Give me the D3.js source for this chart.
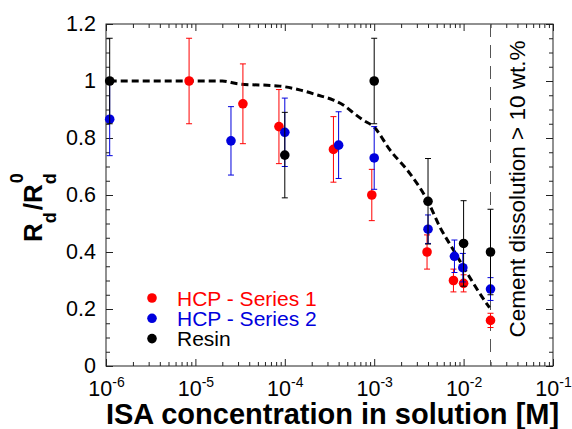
<!DOCTYPE html>
<html>
<head>
<meta charset="utf-8">
<script src="https://cdn.jsdelivr.net/npm/d3@7/dist/d3.min.js"></script>
<style>
  html, body { margin: 0; padding: 0; background: #fff; }
  svg { display: block; font-family: Arial, "Liberation Sans", sans-serif; }
</style>
</head>
<body>
<svg id="chart" width="572" height="429"></svg>
<script>
// ISA concentration [M] and normalised distribution ratio Rd/Rd0
const hcp1X = [8.5e-6, 3.4e-5, 8.6e-5, 3.5e-4, 9.4e-4, 3.9e-3, 7.7e-3, 1.0e-2, 2.0e-2];
const hcp1Y = [1.0, 0.92, 0.84, 0.76, 0.60, 0.40, 0.30, 0.29, 0.16];
const hcp1Err = [0.15, 0.14, 0.13, 0.115, 0.09, 0.06, 0.04, 0.03, 0.025];

const hcp2X = [1.1e-6, 2.5e-5, 1.0e-4, 4.0e-4, 1.0e-3, 4.0e-3, 7.9e-3, 9.8e-3, 2.0e-2];
const hcp2Y = [0.866, 0.79, 0.82, 0.775, 0.73, 0.48, 0.385, 0.345, 0.27];
const hcp2Err = [0.128, 0.12, 0.12, 0.117, 0.11, 0.05, 0.057, 0.05, 0.04];

const resinX = [1.1e-6, 1.0e-4, 1.0e-3, 4.0e-3, 1.0e-2, 2.0e-2];
const resinY = [1.0, 0.74, 1.0, 0.578, 0.43, 0.40];
const resinErr = [0.15, 0.15, 0.15, 0.15, 0.15, 0.15];

// model curve
const modelX = [1.1e-6, 1e-5, 2e-5, 3e-5, 8.8e-5, 1.5e-4, 2.3e-4, 3.5e-4, 4.5e-4, 5.8e-4, 7.5e-4, 1e-3,
                1.5e-3, 2.5e-3, 4e-3, 5.4e-3, 7.7e-3, 1.1e-2, 1.8e-2, 1.95e-2];
const modelY = [1.0, 1.0, 1.0, 0.99, 0.982, 0.968, 0.951, 0.933, 0.916, 0.889, 0.863, 0.838,
                0.758, 0.676, 0.577, 0.489, 0.407, 0.325, 0.22, 0.205];

// cement dissolution limit
const dissolutionLimit = 2e-2;

const seriesNames = ["HCP - Series 1", "HCP - Series 2", "Resin"];
const seriesColors = ["#ff0000", "#0000dd", "#000000"];

const xMajor = [1e-6, 1e-5, 1e-4, 1e-3, 1e-2, 1e-1];
const xExponents = ["-6", "-5", "-4", "-3", "-2", "-1"];
const yMajor = [0, 0.2, 0.4, 0.6, 0.8, 1.0, 1.2];
const yLabels = ["0", "0.2", "0.4", "0.6", "0.8", "1", "1.2"];

const series = [
  { x: hcp1X, y: hcp1Y, e: hcp1Err },
  { x: hcp2X, y: hcp2Y, e: hcp2Err },
  { x: resinX, y: resinY, e: resinErr }
].map((s, i) => ({
  name: seriesNames[i],
  color: seriesColors[i],
  points: s.x.map((xv, j) => ({ x: xv, y: s.y[j], e: s.e[j] }))
}));

const svg = d3.select("#chart");
const L = 106, R = 553, T = 24, B = 366;

const x = d3.scaleLog().domain([1e-6, 1e-1]).range([L, R]);
const y = d3.scaleLinear().domain([0, 1.2]).range([B, T]);

// minor ticks
const xMinor = [];
for (let k = -6; k <= -2; k++) for (let m = 2; m <= 9; m++) xMinor.push(m * Math.pow(10, k));
const yMinor = d3.range(0, 25).map(i => i * 0.05).filter(v => Math.abs(v / 0.2 - Math.round(v / 0.2)) > 1e-6);

const axisColor = "#222";
function styleAxis(g) {
  g.select(".domain").remove();
  g.selectAll(".tick line").attr("stroke", axisColor).attr("stroke-width", 1);
}

// bottom
svg.append("g").attr("transform", `translate(0,${B})`)
  .call(d3.axisBottom(x).tickValues(xMinor).tickSize(-4).tickFormat(""))
  .call(styleAxis);
const xb = svg.append("g").attr("transform", `translate(0,${B})`)
  .call(d3.axisBottom(x).tickValues(xMajor).tickSize(-7).tickPadding(0).tickFormat(""))
  .call(styleAxis);
xb.selectAll(".tick").each(function (d, i) {
  const t = d3.select(this).append("text")
    .attr("fill", "#000").attr("font-size", 21.5).attr("text-anchor", "middle")
    .attr("y", 30);
  t.append("tspan").text("10");
  t.append("tspan").attr("font-size", 14).attr("dy", -9).text(xExponents[i]);
});
// top
svg.append("g").attr("transform", `translate(0,${T})`)
  .call(d3.axisTop(x).tickValues(xMinor).tickSize(-4).tickFormat(""))
  .call(styleAxis);
svg.append("g").attr("transform", `translate(0,${T})`)
  .call(d3.axisTop(x).tickValues(xMajor).tickSize(-7).tickFormat(""))
  .call(styleAxis);
// left
svg.append("g").attr("transform", `translate(${L},0)`)
  .call(d3.axisLeft(y).tickValues(yMinor).tickSize(-4).tickFormat(""))
  .call(styleAxis);
const yl = svg.append("g").attr("transform", `translate(${L},0)`)
  .call(d3.axisLeft(y).tickValues(yMajor).tickSize(-7).tickFormat((d, i) => yLabels[i]))
  .call(styleAxis);
yl.selectAll(".tick text").attr("x", -10).attr("font-size", 21.5).attr("fill", "#000")
  .attr("font-family", "Arial, 'Liberation Sans', sans-serif");
// right
svg.append("g").attr("transform", `translate(${R},0)`)
  .call(d3.axisRight(y).tickValues(yMinor).tickSize(-4).tickFormat(""))
  .call(styleAxis);
svg.append("g").attr("transform", `translate(${R},0)`)
  .call(d3.axisRight(y).tickValues(yMajor).tickSize(-7).tickFormat(""))
  .call(styleAxis);

// frame
svg.append("rect").attr("x", L).attr("y", T).attr("width", R - L).attr("height", B - T)
  .attr("fill", "none").attr("stroke", axisColor).attr("stroke-width", 1);

// dissolution limit
svg.append("line")
  .attr("x1", x(dissolutionLimit)).attr("x2", x(dissolutionLimit))
  .attr("y1", T).attr("y2", B)
  .attr("stroke", "#555").attr("stroke-width", 1).attr("stroke-dasharray", "13,8");
svg.append("text")
  .attr("transform", `translate(525,${(T + B) / 2 - 6}) rotate(-90)`)
  .attr("text-anchor", "middle").attr("font-size", 22.5).attr("fill", "#000")
  .text("Cement dissolution > 10 wt.%");

// model curve
const model = modelX.map((v, i) => [v, modelY[i]]);
svg.append("path")
  .datum(model)
  .attr("fill", "none").attr("stroke", "#000").attr("stroke-width", 3)
  .attr("stroke-dasharray", "7,4")
  .attr("d", d3.line().x(d => x(d[0])).y(d => y(d[1])).curve(d3.curveMonotoneX));

// error bars and points
const cap = 3;
series.forEach(s => {
  const g = svg.append("g");
  const eb = g.selectAll("g.err").data(s.points).join("g").attr("class", "err")
    .attr("stroke", s.color).attr("stroke-width", 1);
  eb.append("line").attr("x1", d => x(d.x)).attr("x2", d => x(d.x))
    .attr("y1", d => y(d.y - d.e)).attr("y2", d => y(d.y + d.e));
  eb.append("line").attr("x1", d => x(d.x) - cap).attr("x2", d => x(d.x) + cap)
    .attr("y1", d => y(d.y + d.e)).attr("y2", d => y(d.y + d.e));
  eb.append("line").attr("x1", d => x(d.x) - cap).attr("x2", d => x(d.x) + cap)
    .attr("y1", d => y(d.y - d.e)).attr("y2", d => y(d.y - d.e));
  g.selectAll("circle").data(s.points).join("circle")
    .attr("cx", d => x(d.x)).attr("cy", d => y(d.y)).attr("r", 4.8)
    .attr("fill", s.color);
});

// legend
const lg = svg.append("g");
series.forEach((s, i) => {
  const yy = 298 + i * 20.3;
  lg.append("circle").attr("cx", 152).attr("cy", yy).attr("r", 4.8).attr("fill", s.color);
  lg.append("text").attr("x", 177).attr("y", yy).attr("dy", "0.36em")
    .attr("font-size", 21).attr("fill", s.color).text(s.name);
});

// axis titles
svg.append("text")
  .attr("x", (L + R) / 2 + 3).attr("y", 424)
  .attr("text-anchor", "middle").attr("font-size", 29).attr("font-weight", "bold")
  .text("ISA concentration in solution [M]");

const yt = svg.append("text")
  .attr("transform", "translate(42,242) rotate(-90)")
  .attr("font-size", 26).attr("font-weight", "bold");
yt.append("tspan").text("R");
yt.append("tspan").attr("font-size", 18).attr("dy", 14).text("d");
yt.append("tspan").attr("dy", -14).attr("dx", 2).text("/R");
yt.append("tspan").attr("font-size", 18).attr("dy", 14).text("d");
yt.append("tspan").attr("font-size", 18).attr("dx", -10).attr("dy", -33).text("0");
</script>
</body>
</html>
